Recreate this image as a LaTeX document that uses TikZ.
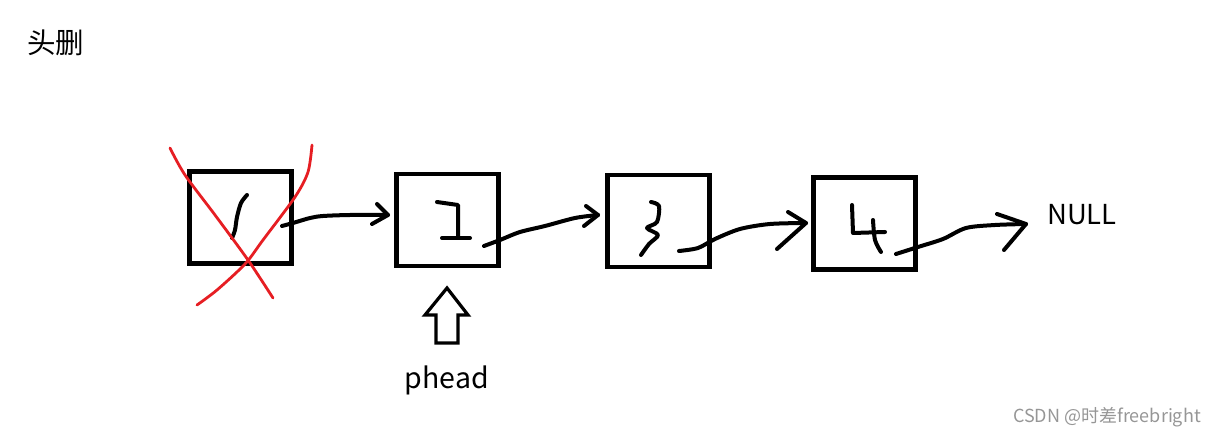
\documentclass[tikz,border=0pt]{standalone}
\usepackage{fontspec}
\setmainfont{Noto Sans CJK SC}
\definecolor{xred}{RGB}{230,30,35}
\definecolor{wm}{RGB}{150,150,150}
\begin{document}
\begin{tikzpicture}[x=1pt,y=-1pt,
  box/.style={draw, line width=4.5pt, minimum width=102pt, minimum height=92pt, inner sep=0pt},
  ink/.style={line width=4pt, line cap=round, line join=round},
  redx/.style={draw=xred, line width=2.8pt, line cap=round, line join=round},
  lbl/.style={inner sep=0pt, font=\fontsize{28.5}{32}\selectfont}]
\useasboundingbox (0,0) rectangle (1219,438);
% title
\node[inner sep=0pt, font=\fontsize{28.5}{32}\selectfont, anchor=west] (title) at (27,43) {头删};
% boxes
\node[box] (b1) at (240.5,217.5) {};
\node[box] (b2) at (447.5,220) {};
\node[box] (b3) at (658.5,221) {};
\node[box] (b4) at (864.5,223.5) {};
\node[lbl, anchor=west, font=\fontsize{27.5}{32}\selectfont] (null) at (1047,215) {NULL};
% digits
\draw[ink] plot[smooth] coordinates {(247,195) (241,203) (237,217) (235,230) (232,238)};
\draw[ink] (437,202) -- (458,205) -- (458,237);
\draw[ink] (442,238) -- (470,238);
\draw[ink] plot[smooth] coordinates {(651,202) (659,206) (657,222) (647,228) (658,235) (649,244) (641,255)};
\draw[ink] (852,205) -- (853,233) -- (885,232);
\draw[ink] plot[smooth] coordinates {(873,220) (875,240) (881,252)};
% connectors
\coordinate (s1) at (282,226); \coordinate (e1) at (388,215);
\coordinate (s2) at (484,246); \coordinate (e2) at (598,215);
\coordinate (s3) at (679,251); \coordinate (e3) at (806,223);
\coordinate (s4) at (896,254); \coordinate (e4) at (1026,224);
\draw[ink] plot[smooth] coordinates {(s1) (293,223) (310,218) (323,216) (350,215) (e1)};
\draw[ink] (377,204) -- (e1) -- (372,224);
\draw[ink] plot[smooth] coordinates {(s2) (500,240) (520,232) (545,226) (575,218) (e2)};
\draw[ink] (586,206) -- (e2) -- (584,226);
\draw[ink] plot[smooth] coordinates {(s3) (698,248) (715,239) (740,229) (770,224) (e3)};
\draw[ink] (788,212) -- (e3) -- (777,249);
\draw[ink] plot[smooth] coordinates {(s4) (918,247) (943,239) (966,228) (995,225) (e4)};
\draw[ink] (997,214) -- (e4) -- (1004,250);
% red cross
\draw[redx] plot[smooth] coordinates {(170,148) (185,175) (215,215) (248,260) (273,298)};
\draw[redx] plot[smooth] coordinates {(312,145) (308,172) (295,197) (263,240) (245,264) (217,290) (197,305)};
% phead pointer
\draw[line width=3.2pt, line join=miter] (447,288) -- (468,315) -- (458,315) -- (458,343) -- (436,343) -- (436,315) -- (425,315) -- cycle;
\node[lbl] (phead) at (447,380) {phead};
% watermark
\node[inner sep=0pt, anchor=east, text=wm, font=\fontsize{18}{20}\selectfont] (wmk) at (1201,417) {CSDN @时差freebright};
\end{tikzpicture}
\end{document}
